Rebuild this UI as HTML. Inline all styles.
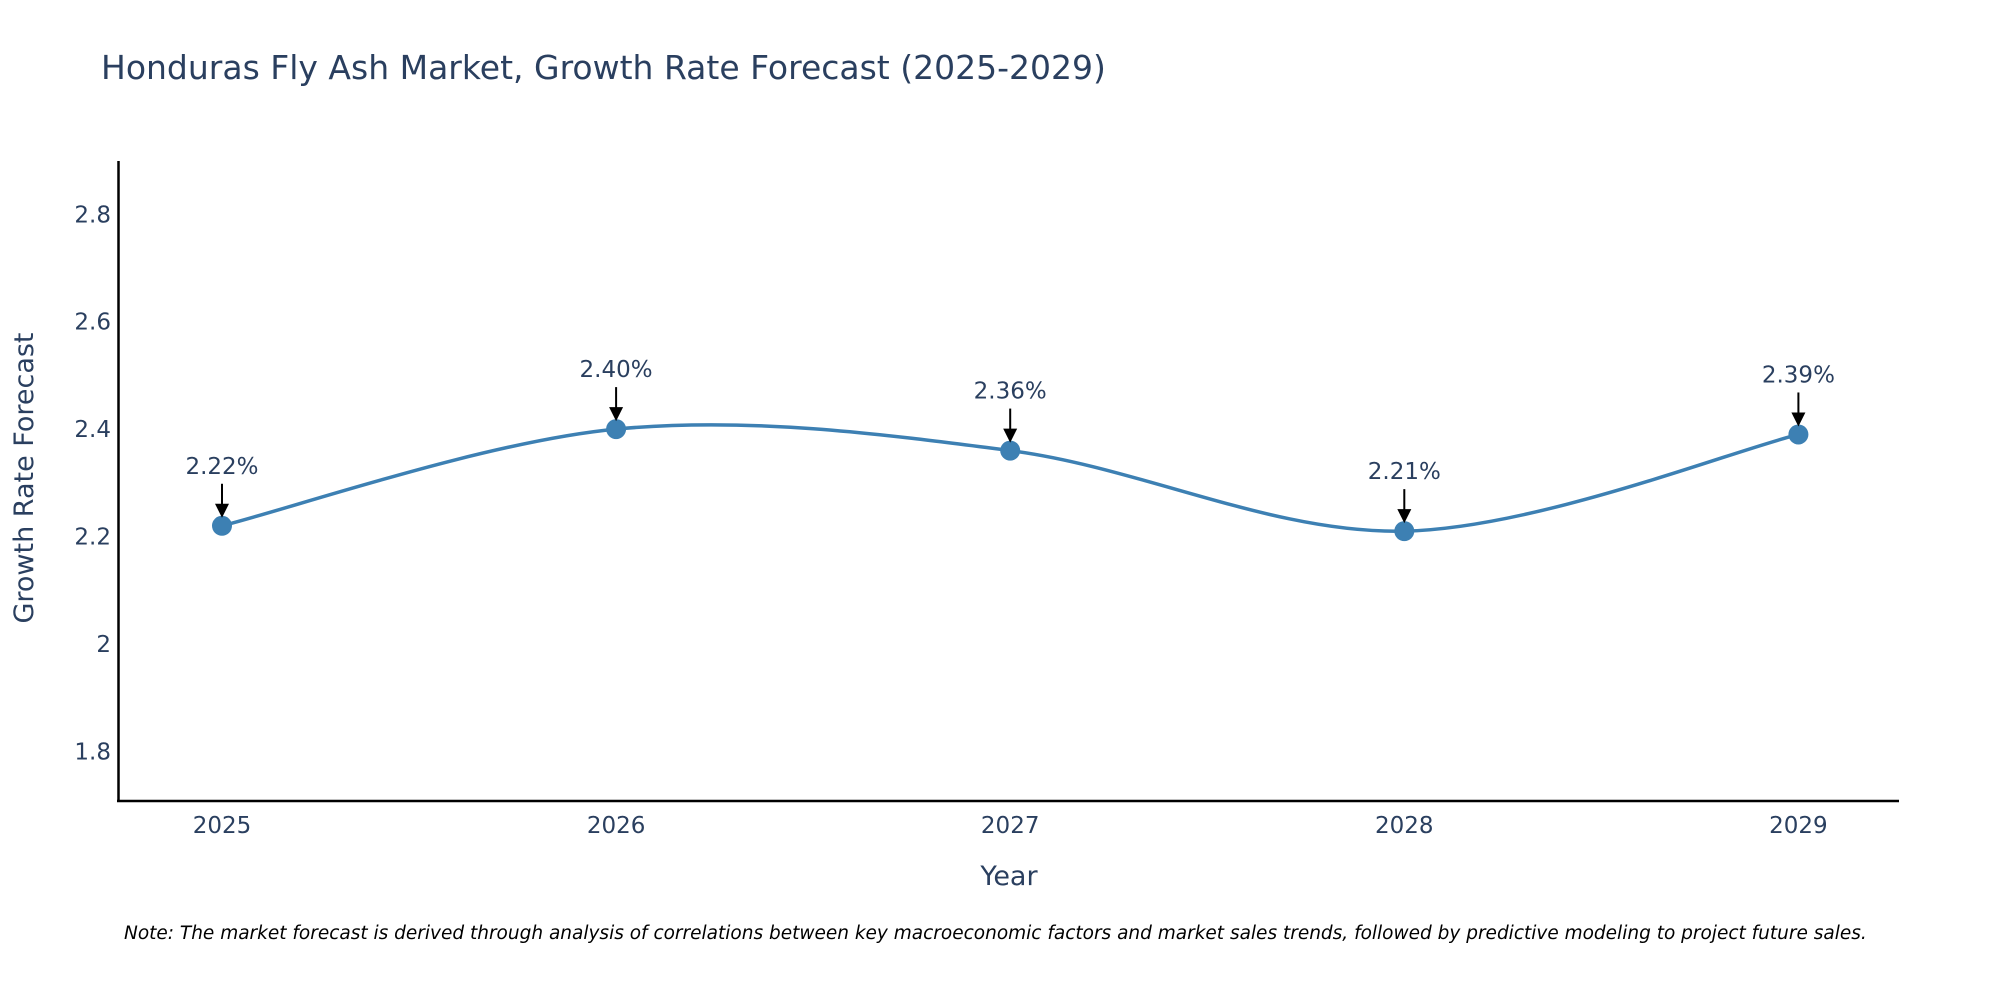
<!DOCTYPE html>
<html><head><meta charset="utf-8"><style>
html,body{margin:0;padding:0;background:#fff;}
svg{display:block;font-family:"DejaVu Sans","Liberation Sans",sans-serif;}
</style></head><body>
<svg id="chart" width="2000" height="1000" viewBox="0 0 2000 1000">
<text x="101" y="79" font-size="33" fill="#2a3f5f">Honduras Fly Ash Market, Growth Rate Forecast (2025-2029)</text>
<g id="yticks"></g>
<g id="xticks"></g>
<line x1="118.5" y1="161" x2="118.5" y2="802" stroke="#000" stroke-width="2.5"/>
<line x1="117" y1="801" x2="1899" y2="801" stroke="#000" stroke-width="2.5"/>
<g id="series"></g>
<text x="33" y="478" font-size="27" fill="#2a3f5f" text-anchor="middle" transform="rotate(-90 33 478)">Growth Rate Forecast</text>
<text x="1009" y="885" font-size="27" fill="#2a3f5f" text-anchor="middle">Year</text>
<text x="124" y="939" font-size="18.5" font-style="italic" fill="#000">Note: The market forecast is derived through analysis of correlations between key macroeconomic factors and market sales trends, followed by predictive modeling to project future sales.</text>
</svg>
<script>
const years = [2025, 2026, 2027, 2028, 2029];
const values = [2.22, 2.40, 2.36, 2.21, 2.39];
const valueLabels = ["2.22%", "2.40%", "2.36%", "2.21%", "2.39%"];
const yTickValues = [1.8, 2.0, 2.2, 2.4, 2.6, 2.8];
const yTickLabels = ["1.8", "2", "2.2", "2.4", "2.6", "2.8"];

const NS = "http://www.w3.org/2000/svg";
function xScale(v){ return 222 + (v - 2025) * 394.1; }
function yScale(v){ return 751.3 - (v - 1.8) / 0.2 * 107.4; }
function mk(tag, attrs, parent){ const e=document.createElementNS(NS,tag); for(const k in attrs) e.setAttribute(k,attrs[k]); parent.appendChild(e); return e; }

const yt = document.getElementById('yticks');
yTickValues.forEach((v,i)=>{
  const t = mk('text',{x:111,y:yScale(v)+8,'font-size':23,fill:'#2a3f5f','text-anchor':'end'},yt);
  
  
  t.textContent = yTickLabels[i];
});
const xt = document.getElementById('xticks');
years.forEach(y=>{
  const t = mk('text',{x:xScale(y),y:833,'font-size':23,fill:'#2a3f5f','text-anchor':'middle'},xt);
  
  
  t.textContent = String(y);
});

const s = document.getElementById('series');
const pts = years.map((y,i)=>[xScale(y), yScale(values[i])]);
let d = 'M'+pts[0][0]+','+pts[0][1];
for(let i=0;i<pts.length-1;i++){
  const p0=pts[Math.max(0,i-1)], p1=pts[i], p2=pts[i+1], p3=pts[Math.min(pts.length-1,i+2)];
  const c1=[p1[0]+(p2[0]-p0[0])/6, p1[1]+(p2[1]-p0[1])/6];
  const c2=[p2[0]-(p3[0]-p1[0])/6, p2[1]-(p3[1]-p1[1])/6];
  d+=' C'+c1[0]+','+c1[1]+' '+c2[0]+','+c2[1]+' '+p2[0]+','+p2[1];
}
const line = mk('path',{d:d,fill:'none',stroke:'#3d80b3','stroke-width':3.5},s);


pts.forEach((p,i)=>{
  const c = mk('circle',{cx:p[0],cy:p[1],r:10,fill:'#3d80b3'},s);
  
  
  const a = mk('line',{x1:p[0],y1:p[1]-42,x2:p[0],y2:p[1]-20,stroke:'#000','stroke-width':2},s);
  
  
  const h = mk('polygon',{points:(p[0]-7)+','+(p[1]-22)+' '+(p[0]+7)+','+(p[1]-22)+' '+p[0]+','+(p[1]-8),fill:'#000'},s);
  
  
  const t = mk('text',{x:p[0],y:p[1]-52,'font-size':23,fill:'#2a3f5f','text-anchor':'middle'},s);
  
  
  t.textContent = valueLabels[i];
});
</script>
</body></html>
